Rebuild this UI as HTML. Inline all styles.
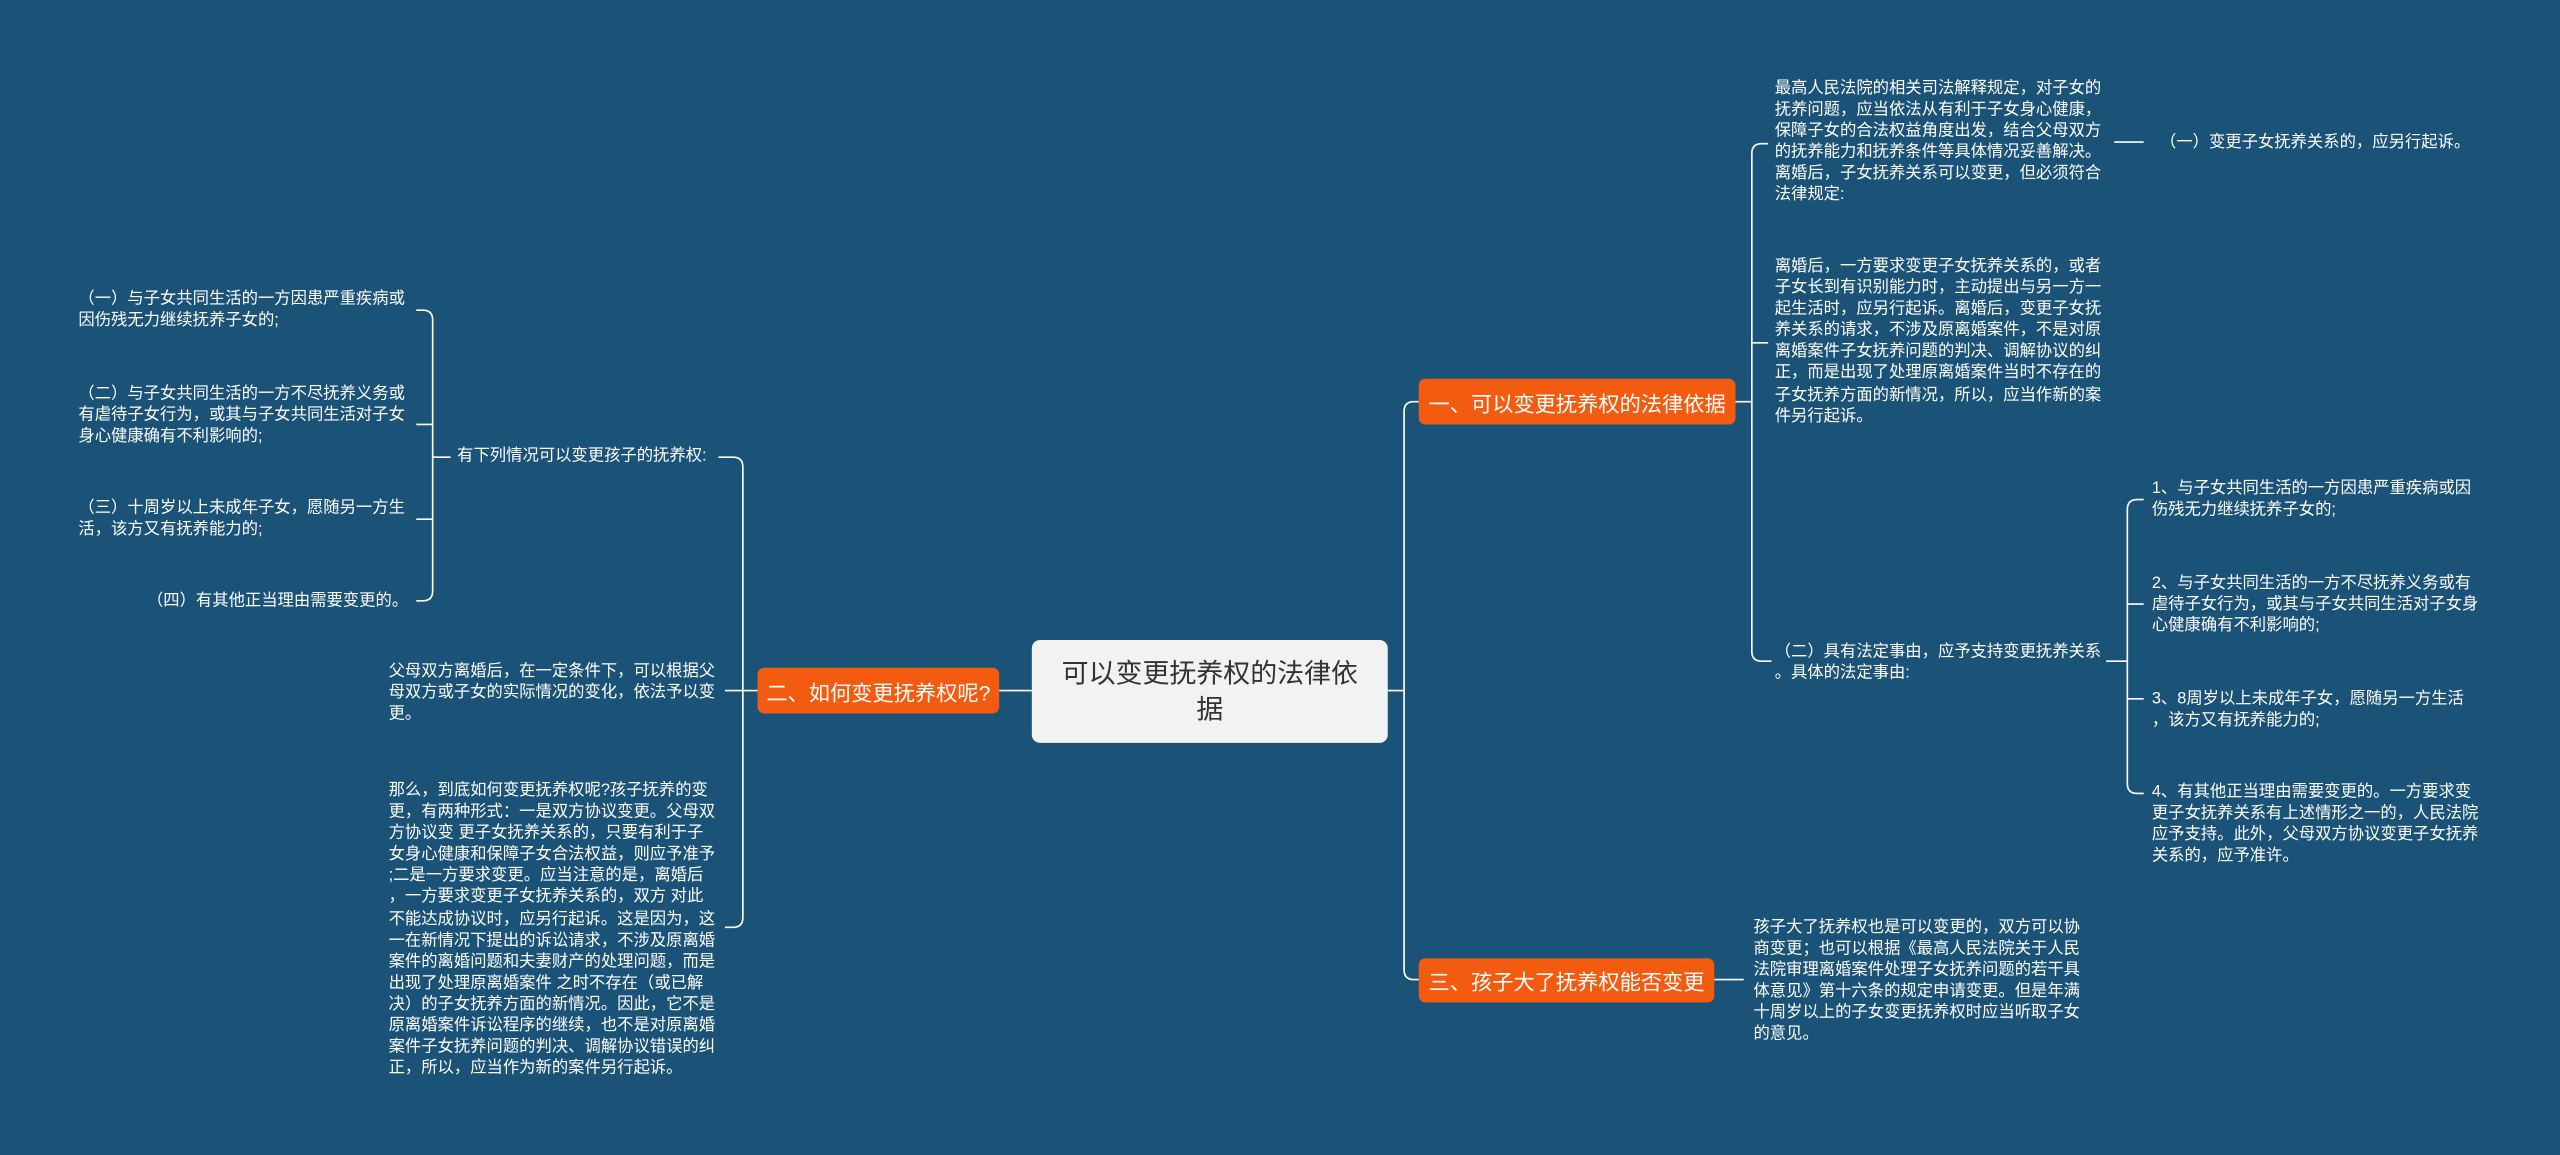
<!DOCTYPE html>
<html><head><meta charset="utf-8"><style>
html,body{margin:0;padding:0;background:#1b5378;width:2560px;height:1155px;overflow:hidden}
#c{position:absolute;left:0;top:0;width:1568px;height:707px;transform:scale(1.63265);transform-origin:0 0;font-family:"Liberation Sans","Noto Sans CJK SC",sans-serif;color:#fff}
.t{position:absolute;font-size:10px;line-height:13.1px;white-space:nowrap}
.r{text-align:right}
.n{position:absolute;background:#f35b10;border-radius:4px;font-size:13px;color:#fff;display:flex;align-items:center;justify-content:center;white-space:nowrap}
svg{position:absolute;left:0;top:0}
</style></head><body><div id="c">
<svg width="1568" height="707" fill="none" stroke="#fff" stroke-width="1">
<path d="M850 423H860M860 252Q860 246 866 246H869M860 252V594Q860 600 866 600H869"/>
<path d="M632 423H612"/>
<path d="M1063 246H1073M1073 94Q1073 88 1079 88H1083M1073 94V399Q1073 405 1079 405H1085M1073 210H1083"/>
<path d="M1295 87H1313"/>
<path d="M1290 405H1303M1303 312Q1303 306 1309 306H1313M1303 312V480Q1303 486 1309 486H1313M1303 370H1313M1303 428H1313"/>
<path d="M1050 600H1068"/>
<path d="M464 423H455M455 286Q455 280 449 280H440M455 286V562Q455 568 449 568H444M455 423H444"/>
<path d="M276 280H265M265 196Q265 190 259 190H255M265 196V362Q265 368 259 368H255M265 260H255M265 318H255"/>
</svg>
<div style="position:absolute;left:632px;top:392px;width:218px;height:63px;background:#f2f2f2;border-radius:5px;color:#333;font-size:16.5px;line-height:22px;display:flex;align-items:center;justify-content:center;text-align:center">可以变更抚养权的法律依<br>据</div>
<div class="n" style="left:869px;top:232px;width:194px;height:28px">一、可以变更抚养权的法律依据</div>
<div class="n" style="left:464px;top:409px;width:148px;height:28px">二、如何变更抚养权呢?</div>
<div class="n" style="left:869px;top:587px;width:181px;height:27px">三、孩子大了抚养权能否变更</div>

<div class="t" style="left:1087px;top:48px">最高人民法院的相关司法解释规定，对子女的<br>抚养问题，应当依法从有利于子女身心健康，<br>保障子女的合法权益角度出发，结合父母双方<br>的抚养能力和抚养条件等具体情况妥善解决。<br>离婚后，子女抚养关系可以变更，但必须符合<br>法律规定:</div>
<div class="t" style="left:1323px;top:81px">（一）变更子女抚养关系的，应另行起诉。</div>
<div class="t" style="left:1087px;top:157px">离婚后，一方要求变更子女抚养关系的，或者<br>子女长到有识别能力时，主动提出与另一方一<br>起生活时，应另行起诉。离婚后，变更子女抚<br>养关系的请求，不涉及原离婚案件，不是对原<br>离婚案件子女抚养问题的判决、调解协议的纠<br>正，而是出现了处理原离婚案件当时不存在的<br>子女抚养方面的新情况，所以，应当作新的案<br>件另行起诉。</div>
<div class="t" style="left:1087px;top:393px">（二）具有法定事由，应予支持变更抚养关系<br>。具体的法定事由:</div>
<div class="t" style="left:1318px;top:293px">1、与子女共同生活的一方因患严重疾病或因<br>伤残无力继续抚养子女的;</div>
<div class="t" style="left:1318px;top:351px">2、与子女共同生活的一方不尽抚养义务或有<br>虐待子女行为，或其与子女共同生活对子女身<br>心健康确有不利影响的;</div>
<div class="t" style="left:1318px;top:422px">3、8周岁以上未成年子女，愿随另一方生活<br>，该方又有抚养能力的;</div>
<div class="t" style="left:1318px;top:479px">4、有其他正当理由需要变更的。一方要求变<br>更子女抚养关系有上述情形之一的，人民法院<br>应予支持。此外，父母双方协议变更子女抚养<br>关系的，应予准许。</div>
<div class="t" style="left:1074px;top:562px">孩子大了抚养权也是可以变更的，双方可以协<br>商变更；也可以根据《最高人民法院关于人民<br>法院审理离婚案件处理子女抚养问题的若干具<br>体意见》第十六条的规定申请变更。但是年满<br>十周岁以上的子女变更抚养权时应当听取子女<br>的意见。</div>

<div class="t" style="left:280px;top:273px">有下列情况可以变更孩子的抚养权:</div>
<div class="t" style="left:48px;top:177px">（一）与子女共同生活的一方因患严重疾病或<br>因伤残无力继续抚养子女的;</div>
<div class="t" style="left:48px;top:235px">（二）与子女共同生活的一方不尽抚养义务或<br>有虐待子女行为，或其与子女共同生活对子女<br>身心健康确有不利影响的;</div>
<div class="t" style="left:48px;top:305px">（三）十周岁以上未成年子女，愿随另一方生<br>活，该方又有抚养能力的;</div>
<div class="t" style="left:90px;top:362px">（四）有其他正当理由需要变更的。</div>
<div class="t" style="left:238px;top:405px">父母双方离婚后，在一定条件下，可以根据父<br>母双方或子女的实际情况的变化，依法予以变<br>更。</div>
<div class="t" style="left:238px;top:478px">那么，到底如何变更抚养权呢?孩子抚养的变<br>更，有两种形式：一是双方协议变更。父母双<br>方协议变 更子女抚养关系的，只要有利于子<br>女身心健康和保障子女合法权益，则应予准予<br>;二是一方要求变更。应当注意的是，离婚后<br>，一方要求变更子女抚养关系的，双方 对此<br>不能达成协议时，应另行起诉。这是因为，这<br>一在新情况下提出的诉讼请求，不涉及原离婚<br>案件的离婚问题和夫妻财产的处理问题，而是<br>出现了处理原离婚案件 之时不存在（或已解<br>决）的子女抚养方面的新情况。因此，它不是<br>原离婚案件诉讼程序的继续，也不是对原离婚<br>案件子女抚养问题的判决、调解协议错误的纠<br>正，所以，应当作为新的案件另行起诉。</div>
</div></body></html>
